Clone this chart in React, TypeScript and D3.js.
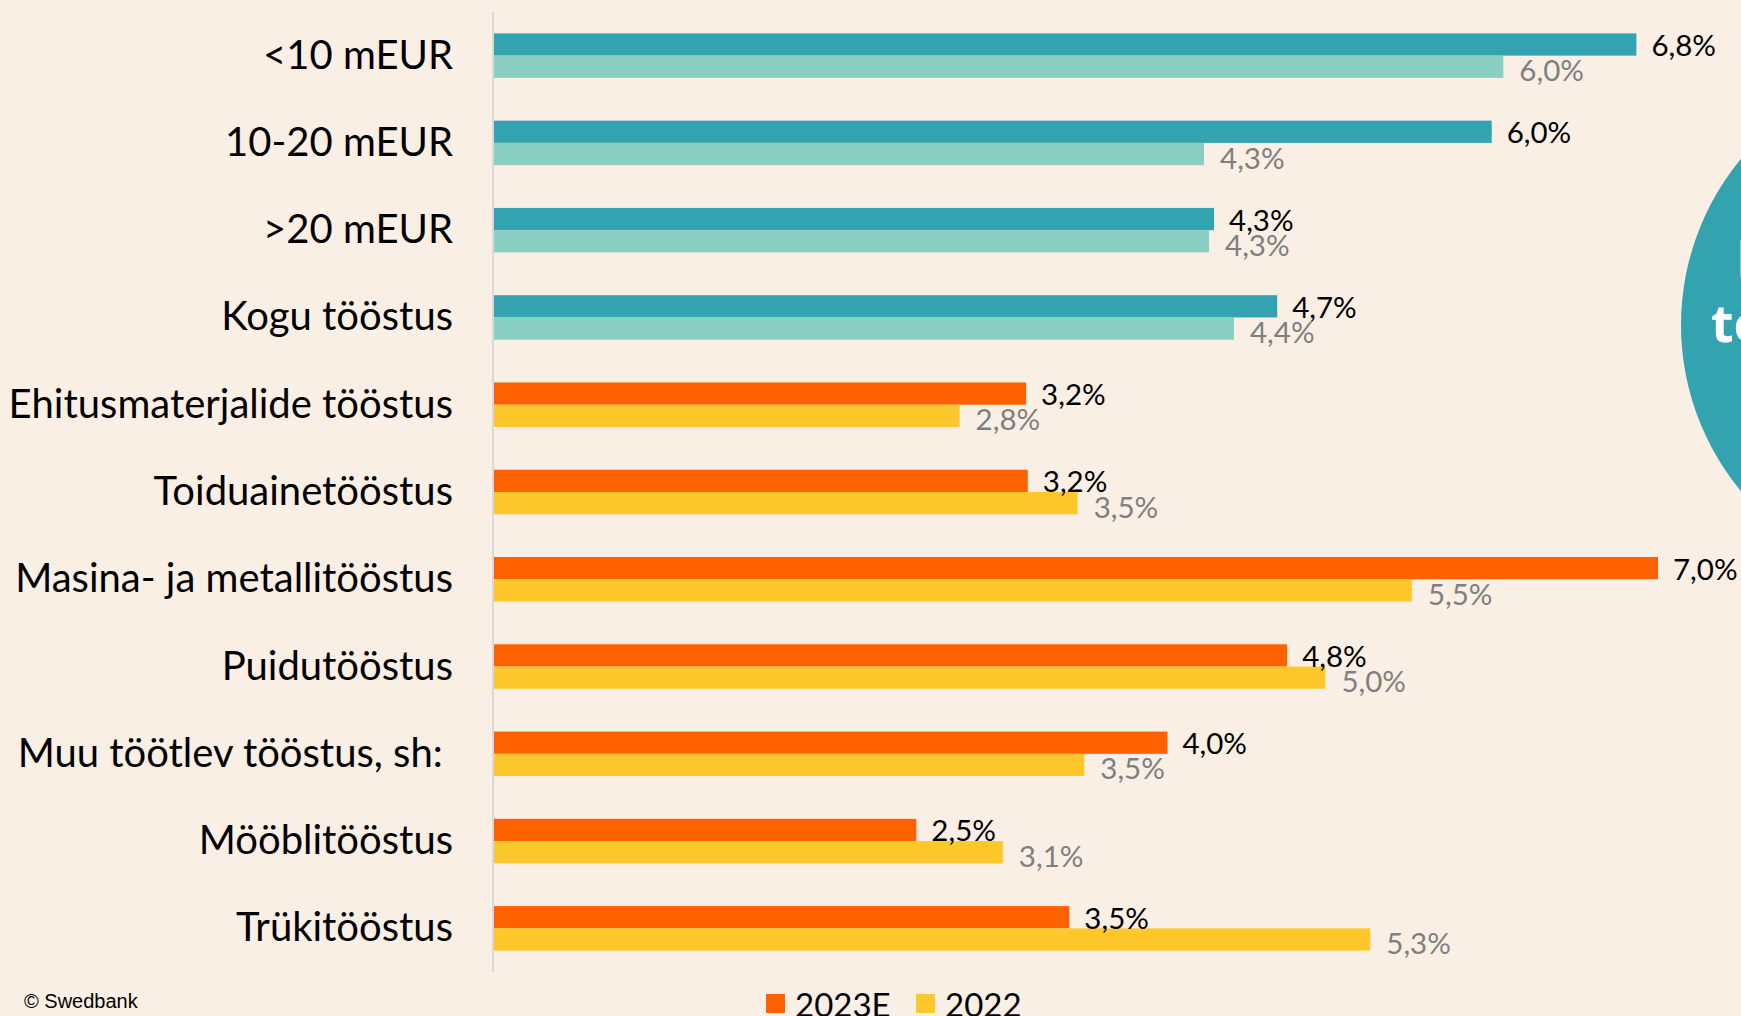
import React from "react";
import * as d3 from "d3";

const categories = [
  "<10 mEUR",
  "10-20 mEUR",
  ">20 mEUR",
  "Kogu tööstus",
  "Ehitusmaterjalide tööstus",
  "Toiduainetööstus",
  "Masina- ja metallitööstus",
  "Puidutööstus",
  "Muu töötlev tööstus, sh:\u00a0",
  "Mööblitööstus",
  "Trükitööstus",
];
const values2023 = [6.87, 6.0, 4.33, 4.71, 3.2, 3.21, 7.0, 4.77, 4.05, 2.54, 3.46];
const values2022 = [6.07, 4.27, 4.3, 4.45, 2.8, 3.51, 5.52, 5.0, 3.55, 3.06, 5.27];
const labels2023 = ["6,8%", "6,0%", "4,3%", "4,7%", "3,2%", "3,2%", "7,0%", "4,8%", "4,0%", "2,5%", "3,5%"];
const labels2022 = ["6,0%", "4,3%", "4,3%", "4,4%", "2,8%", "3,5%", "5,5%", "5,0%", "3,5%", "3,1%", "5,3%"];
const groups = ["size", "size", "size", "size", "sector", "sector", "sector", "sector", "sector", "sector", "sector"];
const legendItems = ["2023E", "2022"];
const circleLines = ["Kasumi-", "tööstuses"];

const W = 1741;
const H = 1016;
const BG = "#F9EFE5";
const colors: Record<string, [string, string]> = {
  size: ["#33A4AF", "#8BCFC3"],
  sector: ["#FF6000", "#FEC82C"],
};
const FONT = "Lato, 'Noto Sans', sans-serif";

export default function App() {
  const x = d3.scaleLinear().domain([0, 7]).range([494, 1658]);
  const y = d3
    .scaleBand<string>()
    .domain(categories)
    .range([12, 972])
    .paddingInner(0.49)
    .paddingOuter(0.245);
  const bw = y.bandwidth() / 2;

  return (
    <svg
      width={W}
      height={H}
      style={{ position: "absolute", left: 0, top: 0 }}
      fontFamily={FONT}
    >
      <rect width={W} height={H} fill={BG} />
      <circle cx={1941} cy={325} r={260} fill="#33A4AF" />
      <text x={1736} y={277} fill="#fff" fontWeight={700} fontSize={52} fontFamily="'Open Sans', sans-serif">
        {circleLines[0]}
      </text>
      <text x={1711} y={342} fill="#fff" fontWeight={700} fontSize={52} fontFamily="'Open Sans', sans-serif">
        {circleLines[1]}
      </text>

      <line x1={493} x2={493} y1={12} y2={972} stroke="#D9D9D9" strokeWidth={2} />

      {categories.map((c, i) => {
        const y0 = y(c)!;
        const [c1, c2] = colors[groups[i]];
        const x1 = x(values2023[i]);
        const x2 = x(values2022[i]);
        return (
          <g key={c}>
            <rect x={x(0)} y={y0} width={x1 - x(0)} height={bw} fill={c1} />
            <rect x={x(0)} y={y0 + bw} width={x2 - x(0)} height={bw} fill={c2} />
            <text
              x={453}
              y={y0 + bw - 2}
              textAnchor="end"
              dominantBaseline="central"
              fontSize={40}
              fill="#000"
            >
              {c}
            </text>
            <text x={x1 + 15} y={y0 + bw / 2} dominantBaseline="central" fontSize={29.5} fill="#000">
              {labels2023[i]}
            </text>
            <text x={x2 + 16} y={y0 + bw * 1.5 + 3} dominantBaseline="central" fontSize={29.5} fill="#7F7F7F">
              {labels2022[i]}
            </text>
          </g>
        );
      })}

      <text x={24} y={1008} fontSize={20} fill="#000" fontFamily="'Liberation Sans', Arial, sans-serif">
        © Swedbank
      </text>

      {legendItems.map((l, i) => {
        const lx = [766, 916][i];
        return (
          <g key={l}>
            <rect x={lx} y={994} width={19} height={19} fill={colors.sector[i]} />
            <text x={lx + 29} y={1004} dominantBaseline="central" fontSize={33} fill="#000">
              {l}
            </text>
          </g>
        );
      })}
    </svg>
  );
}
